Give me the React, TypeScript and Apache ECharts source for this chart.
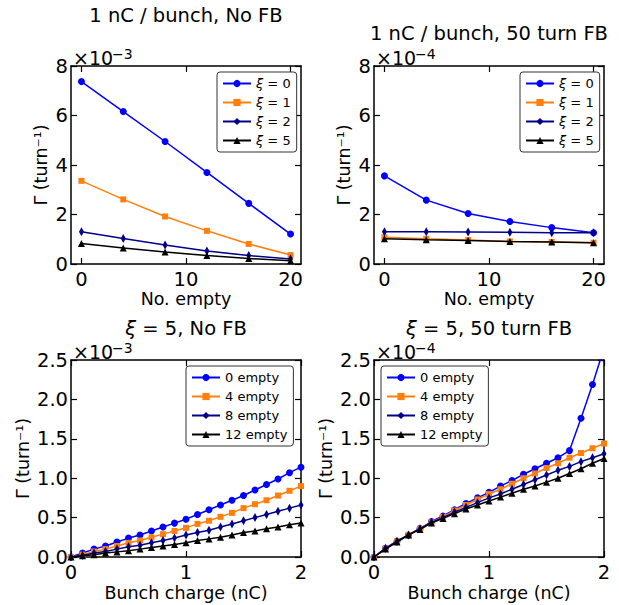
import React, { useEffect, useRef } from 'react';
import * as echarts from 'echarts';

// ---------- data ----------
const emptyCounts = [0, 4, 8, 12, 16, 20];
const xiNames = ['ξ = 0', 'ξ = 1', 'ξ = 2', 'ξ = 5'];
// 1 nC / bunch, No FB  (units of 1e-3 turn^-1)
const noFbXi0 = [7.37, 6.16, 4.95, 3.70, 2.45, 1.21];
const noFbXi1 = [3.36, 2.61, 1.92, 1.34, 0.81, 0.36];
const noFbXi2 = [1.30, 1.03, 0.77, 0.53, 0.34, 0.20];
const noFbXi5 = [0.83, 0.65, 0.48, 0.34, 0.22, 0.13];
// 1 nC / bunch, 50 turn FB  (units of 1e-4 turn^-1)
const fbXi0 = [3.56, 2.58, 2.04, 1.72, 1.47, 1.26];
const fbXi1 = [1.08, 1.02, 0.97, 0.91, 0.89, 0.86];
const fbXi2 = [1.30, 1.30, 1.29, 1.28, 1.26, 1.26];
const fbXi5 = [1.02, 0.98, 0.95, 0.91, 0.89, 0.86];

const bunchCharge = [0, 0.1, 0.2, 0.3, 0.4, 0.5, 0.6, 0.7, 0.8, 0.9, 1.0, 1.1, 1.2, 1.3, 1.4, 1.5, 1.6, 1.7, 1.8, 1.9, 2.0];
const emptyNames = ['0 empty', '4 empty', '8 empty', '12 empty'];
// xi = 5, No FB  (units of 1e-3)
const x5NoFb0 = [0, 0.05, 0.10, 0.14, 0.19, 0.24, 0.28, 0.33, 0.38, 0.43, 0.48, 0.54, 0.60, 0.66, 0.72, 0.78, 0.85, 0.92, 0.99, 1.07, 1.14];
const x5NoFb4 = [0, 0.03, 0.07, 0.10, 0.14, 0.18, 0.21, 0.25, 0.29, 0.33, 0.37, 0.42, 0.46, 0.51, 0.56, 0.62, 0.67, 0.72, 0.78, 0.84, 0.90];
const x5NoFb8 = [0, 0.02, 0.05, 0.07, 0.10, 0.13, 0.15, 0.18, 0.21, 0.24, 0.28, 0.31, 0.34, 0.38, 0.42, 0.46, 0.50, 0.54, 0.58, 0.62, 0.66];
const x5NoFb12 = [0, 0.015, 0.03, 0.05, 0.065, 0.08, 0.10, 0.12, 0.14, 0.16, 0.18, 0.21, 0.23, 0.25, 0.28, 0.31, 0.33, 0.36, 0.38, 0.41, 0.43];
// xi = 5, 50 turn FB  (units of 1e-4)
const x5Fb0 = [0, 0.11, 0.20, 0.28, 0.36, 0.45, 0.52, 0.60, 0.68, 0.75, 0.82, 0.90, 0.97, 1.05, 1.12, 1.19, 1.26, 1.35, 1.76, 2.19, 2.65];
const x5Fb4 = [0, 0.11, 0.20, 0.28, 0.36, 0.44, 0.51, 0.59, 0.66, 0.73, 0.80, 0.86, 0.93, 1.00, 1.06, 1.13, 1.19, 1.26, 1.32, 1.38, 1.44];
const x5Fb8 = [0, 0.11, 0.20, 0.28, 0.36, 0.44, 0.50, 0.57, 0.63, 0.69, 0.75, 0.80, 0.86, 0.92, 0.98, 1.04, 1.10, 1.15, 1.21, 1.26, 1.31];
const x5Fb12 = [0, 0.10, 0.19, 0.28, 0.35, 0.43, 0.49, 0.55, 0.61, 0.66, 0.71, 0.76, 0.81, 0.86, 0.90, 0.95, 1.00, 1.06, 1.12, 1.19, 1.25];

const emptyTicks = [0, 10, 20];

// ---------- styles ----------
const FONT = 'DejaVu Sans';
const COLORS = ['#0000ff', '#ff7f0e', '#00008b', '#000000'];
const SYMBOLS = ['circle', 'rect', 'diamond', 'triangle'];
const SYMSIZE: any[] = [7, 6, [5, 9], 7];
const TICK_FONT = 19.5;

const gridBoxes = [
  { left: 71, top: 66, width: 230, height: 198 },
  { left: 374, top: 66, width: 230, height: 198 },
  { left: 71, top: 360, width: 230, height: 197 },
  { left: 374, top: 360, width: 230, height: 197 },
];

function zip(xs: number[], ys: number[]) {
  return xs.map((x, i) => [x, ys[i]]);
}

const frameLine = { color: '#000', width: 1.5 };
const tickLine = { color: '#000', width: 1.2 };

function xAxes(grid: number, min: number, max: number, ticks: number[] | null, interval: number | null, name: string, nameGap: number) {
  const tickCfg: any = { show: true, inside: true, length: 6, lineStyle: tickLine };
  const labelCfg: any = { fontSize: TICK_FONT, color: '#000', fontFamily: FONT, margin: 5 };
  const base: any = { type: 'value', gridIndex: grid, min, max, splitLine: { show: false } };
  if (ticks) {
    tickCfg.customValues = ticks;
    labelCfg.customValues = ticks;
  } else if (interval) {
    base.interval = interval;
  }
  return [
    {
      ...base,
      position: 'bottom',
      axisLine: { show: true, onZero: false, lineStyle: frameLine },
      axisTick: tickCfg,
      axisLabel: labelCfg,
      name,
      nameLocation: 'middle',
      nameGap,
      nameTextStyle: { fontSize: 17.5, color: '#000', fontFamily: FONT },
    },
    {
      ...base,
      position: 'top',
      axisLine: { show: true, onZero: false, lineStyle: frameLine },
      axisTick: { ...tickCfg },
      axisLabel: { show: false, ...(ticks ? { customValues: ticks } : {}) },
    },
  ];
}

function yAxes(grid: number, max: number, interval: number, decimals: number, nameGap: number) {
  const base: any = { type: 'value', gridIndex: grid, min: 0, max, interval, splitLine: { show: false } };
  const tickCfg: any = { show: true, inside: true, length: 6, lineStyle: tickLine };
  return [
    {
      ...base,
      position: 'left',
      axisLine: { show: true, onZero: false, lineStyle: frameLine },
      axisTick: tickCfg,
      axisLabel: {
        fontSize: TICK_FONT, color: '#000', fontFamily: FONT, margin: 3,
        formatter: (v: number) => v.toFixed(decimals),
      },
      name: 'Γ (turn⁻¹)',
      nameLocation: 'middle',
      nameGap,
      nameTextStyle: { fontSize: 17.5, color: '#000', fontFamily: FONT },
    },
    {
      ...base,
      position: 'right',
      axisLine: { show: true, onZero: false, lineStyle: frameLine },
      axisTick: { ...tickCfg },
      axisLabel: { show: false },
    },
  ];
}

function lineSeries(name: string, idx: number, axisIdx: number, data: number[][]) {
  return {
    type: 'line',
    name,
    xAxisIndex: axisIdx,
    yAxisIndex: axisIdx,
    data,
    color: COLORS[idx],
    symbol: SYMBOLS[idx],
    symbolSize: SYMSIZE[idx],
    showAllSymbol: true,
    lineStyle: { width: 1.5, color: COLORS[idx] },
    itemStyle: { color: COLORS[idx] },
    clip: true,
    z: 2 + idx,
  };
}

function legendCfg(names: string[], left: number, top: number) {
  return {
    data: names,
    orient: 'vertical',
    left,
    top,
    padding: [4, 6, 4, 5],
    itemGap: 4,
    itemWidth: 28,
    itemHeight: 9,
    borderColor: '#333',
    borderWidth: 1,
    borderRadius: 3,
    backgroundColor: '#fff',
    selectedMode: false,
    formatter: (n: string) => (n.startsWith('ξ') ? '{i|ξ}' + n.slice(1) : n),
    textStyle: {
      fontSize: 13, color: '#000', fontFamily: FONT, lineHeight: 15,
      rich: { i: { fontSize: 13, fontStyle: 'italic', fontFamily: FONT, color: '#000', lineHeight: 15 } },
    },
  };
}

export default function App() {
  const ref = useRef<HTMLDivElement>(null);
  useEffect(() => {
    if (!ref.current) return;
    const chart = echarts.init(ref.current, undefined, { renderer: 'svg' });

    const xa = [
      ...xAxes(0, -1, 21, emptyTicks, null, 'No. empty', 25),
      ...xAxes(1, -1, 21, emptyTicks, null, 'No. empty', 25),
      ...xAxes(2, 0, 2, null, 1, 'Bunch charge (nC)', 27),
      ...xAxes(3, 0, 2, null, 1, 'Bunch charge (nC)', 27),
    ];
    const ya = [
      ...yAxes(0, 8, 2, 0, 21),
      ...yAxes(1, 8, 2, 0, 21),
      ...yAxes(2, 2.5, 0.5, 1, 39),
      ...yAxes(3, 2.5, 0.5, 1, 39),
    ];

    const series: any[] = [];
    [noFbXi0, noFbXi1, noFbXi2, noFbXi5].forEach((d, i) => series.push(lineSeries(xiNames[i], i, 0, zip(emptyCounts, d))));
    [fbXi0, fbXi1, fbXi2, fbXi5].forEach((d, i) => series.push(lineSeries(xiNames[i], i, 2, zip(emptyCounts, d))));
    [x5NoFb0, x5NoFb4, x5NoFb8, x5NoFb12].forEach((d, i) => series.push(lineSeries(emptyNames[i], i, 4, zip(bunchCharge, d))));
    [x5Fb0, x5Fb4, x5Fb8, x5Fb12].forEach((d, i) => series.push(lineSeries(emptyNames[i], i, 6, zip(bunchCharge, d))));

    const titleStyle = {
      fontSize: 19.5, color: '#000', fontFamily: FONT, fontWeight: 'normal',
      rich: { i: { fontSize: 19.5, fontStyle: 'italic', fontFamily: FONT, color: '#000' } },
    };
    const txt = (x: number, y: number, t: string, size: number) => ({
      type: 'text', x, y,
      style: { text: t, fontSize: size, fontFamily: FONT, fill: '#000', verticalAlign: 'bottom' },
    });
    const offText = (x: number, y: number, exp: string) => [
      txt(x, y, '×10', 19),
      txt(x + 39, y - 6, exp, 14),
    ];

    chart.setOption({
      animation: false,
      backgroundColor: '#fff',
      grid: gridBoxes.map((g) => ({ ...g, containLabel: false })),
      xAxis: xa,
      yAxis: ya,
      series,
      title: [
        { text: '1 nC / bunch, No FB', left: 186, top: 5, textAlign: 'center', padding: 0, textStyle: titleStyle },
        { text: '1 nC / bunch, 50 turn FB', left: 489, top: 23, textAlign: 'center', padding: 0, textStyle: titleStyle },
        { text: '{i|ξ} = 5, No FB', left: 186, top: 318, textAlign: 'center', padding: 0, textStyle: titleStyle },
        { text: '{i|ξ} = 5, 50 turn FB', left: 489, top: 318, textAlign: 'center', padding: 0, textStyle: titleStyle },
      ],
      legend: [
        legendCfg(xiNames, 217, 72),
        legendCfg(xiNames, 520, 72),
        legendCfg(emptyNames, 186, 366),
        legendCfg(emptyNames, 381, 366),
      ],
      graphic: [
        ...offText(73, 67, '−3'),
        ...offText(376, 67, '−4'),
        ...offText(73, 361, '−3'),
        ...offText(376, 361, '−4'),
      ],
    });
    return () => chart.dispose();
  }, []);
  return <div ref={ref} style={{ position: 'fixed', left: 0, top: 0, width: 619, height: 605 }} />;
}
